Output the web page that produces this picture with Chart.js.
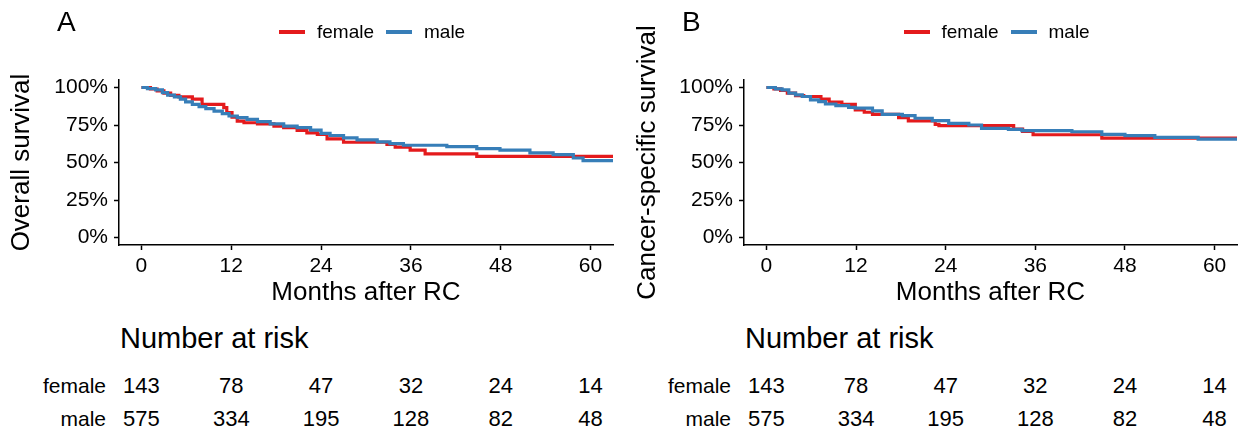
<!DOCTYPE html>
<html><head><meta charset="utf-8">
<script src="https://cdn.jsdelivr.net/npm/chart.js@4.4.0/dist/chart.umd.min.js"></script>
<style>
html,body{margin:0;padding:0;background:#fff;}
body{width:1238px;height:435px;position:relative;overflow:hidden;font-family:"Liberation Sans",Arial,Helvetica,sans-serif;color:#000;}
canvas{position:absolute;top:0;}
.t{position:absolute;white-space:nowrap;line-height:1;}
.c{transform:translateX(-50%);}
.r{transform:translateX(-100%);}
.sw{position:absolute;height:4px;}
</style></head><body>
<canvas id="cA" width="620" height="312" style="left:0"></canvas>
<canvas id="cB" width="618" height="312" style="left:620px"></canvas>
<script>
// ---------- data ----------
const xTicks = [0, 12, 24, 36, 48, 60];
const yTicks = [0, 25, 50, 75, 100];
const riskTimes = [0, 12, 24, 36, 48, 60];
const riskFemale = [143, 78, 47, 32, 24, 14];
const riskMale = [575, 334, 195, 128, 82, 48];
const groups = ["female", "male"];

// Panel A: overall survival (months, %)
const osFemaleT = [0,1.2,2.1,3.0,3.9,5.0,6.8,8.1,11.0,11.4,12.1,12.8,13.7,15.5,17.7,19.0,20.8,22.1,23.5,24.8,27.0,32.8,33.9,35.9,37.9,44.8,63];
const osFemaleS = [100,99,97.8,96.2,94.8,93.7,92.2,88.8,86.6,83.2,80.3,77.6,76.5,75.8,74.3,73.2,71.4,69.8,68.7,65.8,63.5,62,60.2,58.2,55.7,54.1,54.1];
const osMaleT = [0,0.8,1.9,2.8,3.5,4.4,5.2,5.9,6.8,7.7,8.6,9.7,10.8,11.7,12.8,14.1,15.5,17.2,19.0,20.8,22.6,24.0,25.2,27.0,28.8,31.5,33.2,35.0,40.8,44.8,47.9,51.9,55.0,57.7,59.0,63];
const osMaleS = [100,99.3,98.4,96.6,94.9,93.7,92.2,90.4,88.8,87.2,85.9,84.3,82.6,81,79.9,78.7,77.2,75.8,74.3,73.2,71.6,69.4,68,66.4,65.1,63.8,62.6,61.5,60.6,59.3,58.2,56.4,55.3,53,51.2,51.2];

// Panel B: cancer-specific survival
const cssFemaleT = [0,1.0,1.9,2.8,3.9,5.0,7.3,8.4,10.1,11.9,13.1,14.2,17.7,19.0,22.6,23.1,33.1,34.3,35.7,44.9,63];
const cssFemaleS = [100,99.1,98,96.2,94.6,94,92.2,90.2,88.8,85,83.5,82.1,79.9,77.7,75.4,74.6,72.3,70.8,68.5,66.3,66.3];
const cssMaleT = [0,1.2,2.1,3.0,3.9,4.8,5.9,7.0,7.9,9.3,11.0,11.9,14.2,15.5,18.2,19.9,22.2,24.4,27.1,28.8,32.4,34.2,40.9,44.9,48.0,52.0,57.8,63];
const cssMaleS = [100,99.1,98.4,96.2,95.1,94,91.7,90.6,89,87.9,86.8,86.2,84.4,82.1,81.3,79.5,77.9,76.1,75,72.8,72.1,71.2,70.5,68.8,67.9,66.7,65.6,65.6];

const RED = "#E41A1C", BLUE = "#377EB8";
const FONT = '"Liberation Sans", Arial, Helvetica, sans-serif';

function pts(t, s) { return t.map((v, i) => ({x: v, y: s[i]})); }

function makeChart(id, yTitle, fT, fS, mT, mS, yWidth, yTitlePad, rightPad) {
  return new Chart(document.getElementById(id), {
    type: 'line',
    data: {
      datasets: [
        {label: groups[0], data: pts(fT, fS), borderColor: RED, backgroundColor: RED, borderWidth: 3.2, stepped: 'before', pointRadius: 0, order: 1},
        {label: groups[1], data: pts(mT, mS), borderColor: BLUE, backgroundColor: BLUE, borderWidth: 3.2, stepped: 'before', pointRadius: 0, order: 0}
      ]
    },
    options: {
      responsive: false, animation: false, events: [],
      layout: {padding: {left: 0, right: rightPad, top: 80, bottom: 0}},
      plugins: {legend: {display: false}, tooltip: {enabled: false}},
      scales: {
        x: {
          type: 'linear', min: -3, max: 63,
          afterBuildTicks: s => { s.ticks = xTicks.map(v => ({value: v})); },
          afterFit: s => { s.height = 67; },
          grid: {display: true, drawOnChartArea: false, drawTicks: true, tickLength: 5, tickColor: '#000', tickWidth: 1.5},
          border: {display: true, color: '#000', width: 1.5},
          ticks: {color: '#000', font: {family: FONT, size: 21}, padding: 4, maxRotation: 0},
          title: {display: true, text: 'Months after RC', color: '#000', font: {family: FONT, size: 26}, padding: {top: 0, bottom: 4}}
        },
        y: {
          type: 'linear', min: -5, max: 105,
          afterBuildTicks: s => { s.ticks = yTicks.map(v => ({value: v})); },
          afterFit: s => { s.width = yWidth; },
          grid: {display: true, drawOnChartArea: false, drawTicks: true, tickLength: 5, tickColor: '#000', tickWidth: 1.5},
          border: {display: true, color: '#000', width: 1.5},
          ticks: {color: '#000', font: {family: FONT, size: 21}, padding: 6, callback: v => v + '%'},
          title: {display: true, text: yTitle, color: '#000', font: {family: FONT, size: 26}, padding: {top: yTitlePad, bottom: 0}}
        }
      }
    }
  });
}

const chartA = makeChart('cA', 'Overall survival', osFemaleT, osFemaleS, osMaleT, osMaleS, 119, 6, 7);
const chartB = makeChart('cB', 'Cancer-specific survival', cssFemaleT, cssFemaleS, cssMaleT, cssMaleS, 124, 12, 1);

function addText(txt, x, y, size, cls) {
  const d = document.createElement('div');
  d.className = 't ' + (cls || '');
  d.style.left = x + 'px';
  d.style.top = (y - size * 0.55) + 'px';
  d.style.fontSize = size + 'px';
  d.textContent = txt;
  document.body.appendChild(d);
}
function addSwatch(color, x, y, w) {
  const d = document.createElement('div');
  d.className = 'sw';
  d.style.left = x + 'px'; d.style.top = (y - 2) + 'px'; d.style.width = w + 'px';
  d.style.background = color;
  document.body.appendChild(d);
}

function decorate(chart, offset, letter) {
  const ca = chart.chartArea;
  const L = offset + ca.left;
  addText(letter, offset + ca.left - 62, 23, 28);
  // legend, centred over plot area
  const mid = offset + (ca.left + ca.right) / 2;
  const lx = mid - 87;
  addSwatch(RED, lx, 32, 26);
  addText(groups[0], lx + 38, 32, 19);
  addSwatch(BLUE, lx + 107, 32, 26);
  addText(groups[1], lx + 145, 32, 19);
  // risk table
  addText('Number at risk', L + 1, 340, 29);
  addText(groups[0], L - 13, 387, 21, 'r');
  addText(groups[1], L - 13, 420, 21, 'r');
  riskTimes.forEach((t, i) => {
    const px = offset + chart.scales.x.getPixelForValue(t);
    addText(String(riskFemale[i]), px, 387, 22, 'c');
    addText(String(riskMale[i]), px, 420, 22, 'c');
  });
}
decorate(chartA, 0, 'A');
decorate(chartB, 620, 'B');
</script>
</body></html>
